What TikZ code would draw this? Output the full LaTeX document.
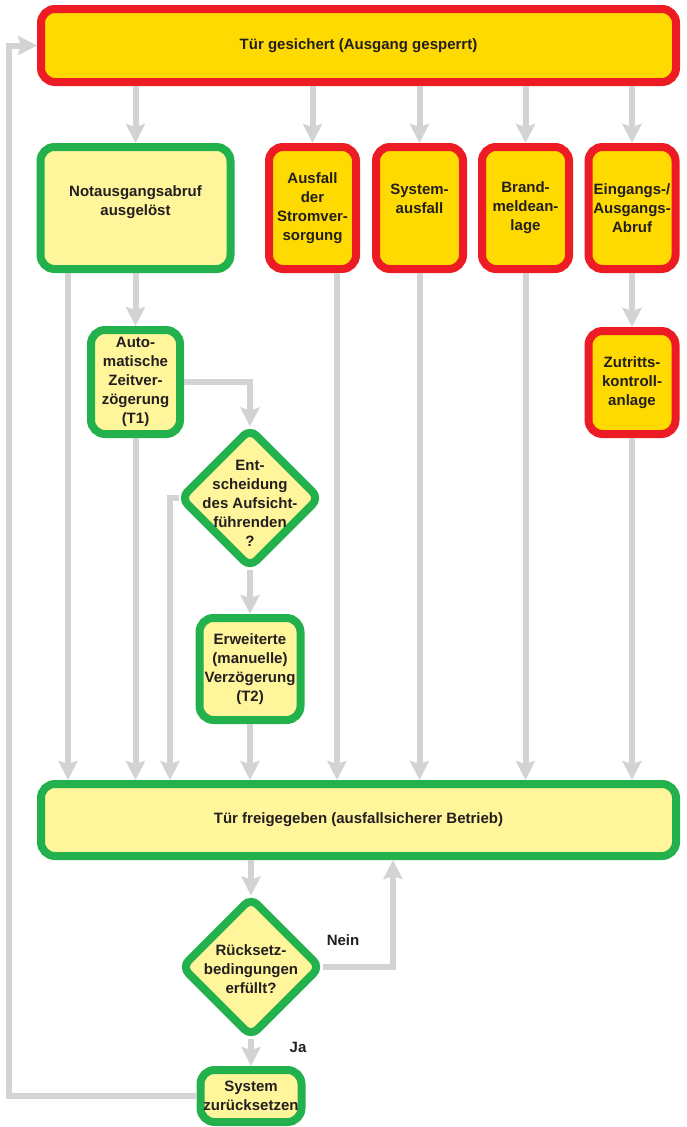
\documentclass[tikz,border=0pt]{standalone}
\usepackage{fontspec}
\setmainfont{Liberation Sans}
\usetikzlibrary{shapes.geometric,arrows.meta}

\definecolor{alarmred}{RGB}{237,28,36}
\definecolor{lockgold}{RGB}{255,218,0}
\definecolor{safegreen}{RGB}{34,177,76}
\definecolor{paleyellow}{RGB}{255,245,155}
\definecolor{flowgrey}{RGB}{209,211,212}
\definecolor{inkgrey}{RGB}{35,31,32}

\begin{document}
\begin{tikzpicture}[x=1pt, y=-1pt, every node/.style={font=\fontsize{15}{19}\selectfont\bfseries, text=inkgrey},
	box/.style={rectangle, rounded corners=14pt, line width=8pt, align=center, inner sep=0pt},
	lock node/.style={box, draw=alarmred, fill=lockgold},
	safe node/.style={box, draw=safegreen, fill=paleyellow},
	decision node/.style={diamond, aspect=1, draw=safegreen, fill=paleyellow, line width=8pt, rounded corners=9pt, inner sep=0pt, minimum width=141pt, minimum height=141pt},
	in diamond/.style={align=center, inner sep=0pt},
	flow/.style={draw=flowgrey, line width=6pt, -{Stealth[length=19pt, width=19pt, inset=3pt]}}]

	\useasboundingbox (0,0) rectangle (687,1127);

	% x positions of the side lines
	\coordinate (xa) at (68,0);
	\coordinate (xb) at (170,0);
	\coordinate (xc) at (337,0);
	\coordinate (xd) at (393,0);
	\coordinate (xe) at (9,0);

	\node[lock node, minimum width=635pt, minimum height=73pt] (top) at (358.5,45.5) {Tür gesichert (Ausgang gesperrt)};

	\node[safe node, minimum width=190pt, minimum height=122pt] (nota) at (135.5,208) {Notausgangsabruf\\ausgelöst\\[-10pt]\strut};
	\node[lock node, minimum width=87pt, minimum height=122pt] (strom) at (312.5,208) {Ausfall\\der\\Stromver-\\sorgung};
	\node[lock node, minimum width=87pt, minimum height=122pt] (sysaus) at (419.5,208) {System-\\ausfall\\[-6pt]\strut};
	\node[lock node, minimum width=87pt, minimum height=122pt] (brand) at (525.5,208) {Brand-\\meldean-\\lage};
	\node[lock node, minimum width=87pt, minimum height=122pt] (eing) at (632,208) {Eingangs-/\\Ausgangs-\\Abruf};

	\node[safe node, minimum width=89pt, minimum height=104pt] (auto) at (135.5,382) {Auto-\\matische\\Zeitver-\\zögerung\\(T1)};
	\node[lock node, minimum width=87pt, minimum height=103pt] (zutritt) at (632,382.5) {Zutritts-\\kontroll-\\anlage};

	\node[decision node, label={[in diamond, yshift=-5pt]center:{Ent-\\scheidung\\des Aufsicht-\\führenden\\?}}] (entsch) at (250,498) {};
	\node[safe node, minimum width=101pt, minimum height=102pt] (erw) at (250,669) {Erweiterte\\(manuelle)\\Verzögerung\\(T2)};

	\node[safe node, minimum width=635pt, minimum height=72pt] (frei) at (358.5,820) {Tür freigegeben (ausfallsicherer Betrieb)};

	\node[decision node, label={[in diamond, yshift=-2pt]center:{Rücksetz-\\bedingungen\\erfüllt?}}] (ruck) at (251,967) {};
	\node[safe node, minimum width=101pt, minimum height=52pt] (sysrst) at (251,1096) {System\\zurücksetzen};

	\node (nein) at (343,940) {Nein};
	\node (ja) at (298,1047) {Ja};

	\draw[flow] (top.south -| nota.north) -- (nota.north);
	\draw[flow] (top.south -| strom.north) -- (strom.north);
	\draw[flow] (top.south -| sysaus.north) -- (sysaus.north);
	\draw[flow] (top.south -| brand.north) -- (brand.north);
	\draw[flow] (top.south -| eing.north) -- (eing.north);

	\draw[flow] (nota.south) -- (auto.north);
	\draw[flow] (nota.south -| xa) -- (frei.north -| xa);
	\draw[flow] (auto.south) -- (auto.south |- frei.north);
	\draw[flow] (auto.east) -| ([yshift=-3pt]entsch.north);
	\draw[flow] ([xshift=3pt]entsch.west) -| (frei.north -| xb);
	\draw[flow] ([yshift=3pt]entsch.south) -- (erw.north);
	\draw[flow] (erw.south) -- (erw.south |- frei.north);
	\draw[flow] (strom.south -| xc) -- (frei.north -| xc);
	\draw[flow] (sysaus.south) -- (sysaus.south |- frei.north);
	\draw[flow] (brand.south) -- (brand.south |- frei.north);
	\draw[flow] (eing.south) -- (zutritt.north);
	\draw[flow] (zutritt.south) -- (zutritt.south |- frei.north);

	\draw[flow] (frei.south -| ruck.north) -- ([yshift=-3pt]ruck.north);
	\draw[flow] ([xshift=-3pt]ruck.east) -| (frei.south -| xd);
	\draw[flow] ([yshift=3pt]ruck.south) -- (sysrst.north);
	\draw[flow] (sysrst.west) -| (top.west -| xe) -- (top.west);
\end{tikzpicture}
\end{document}
